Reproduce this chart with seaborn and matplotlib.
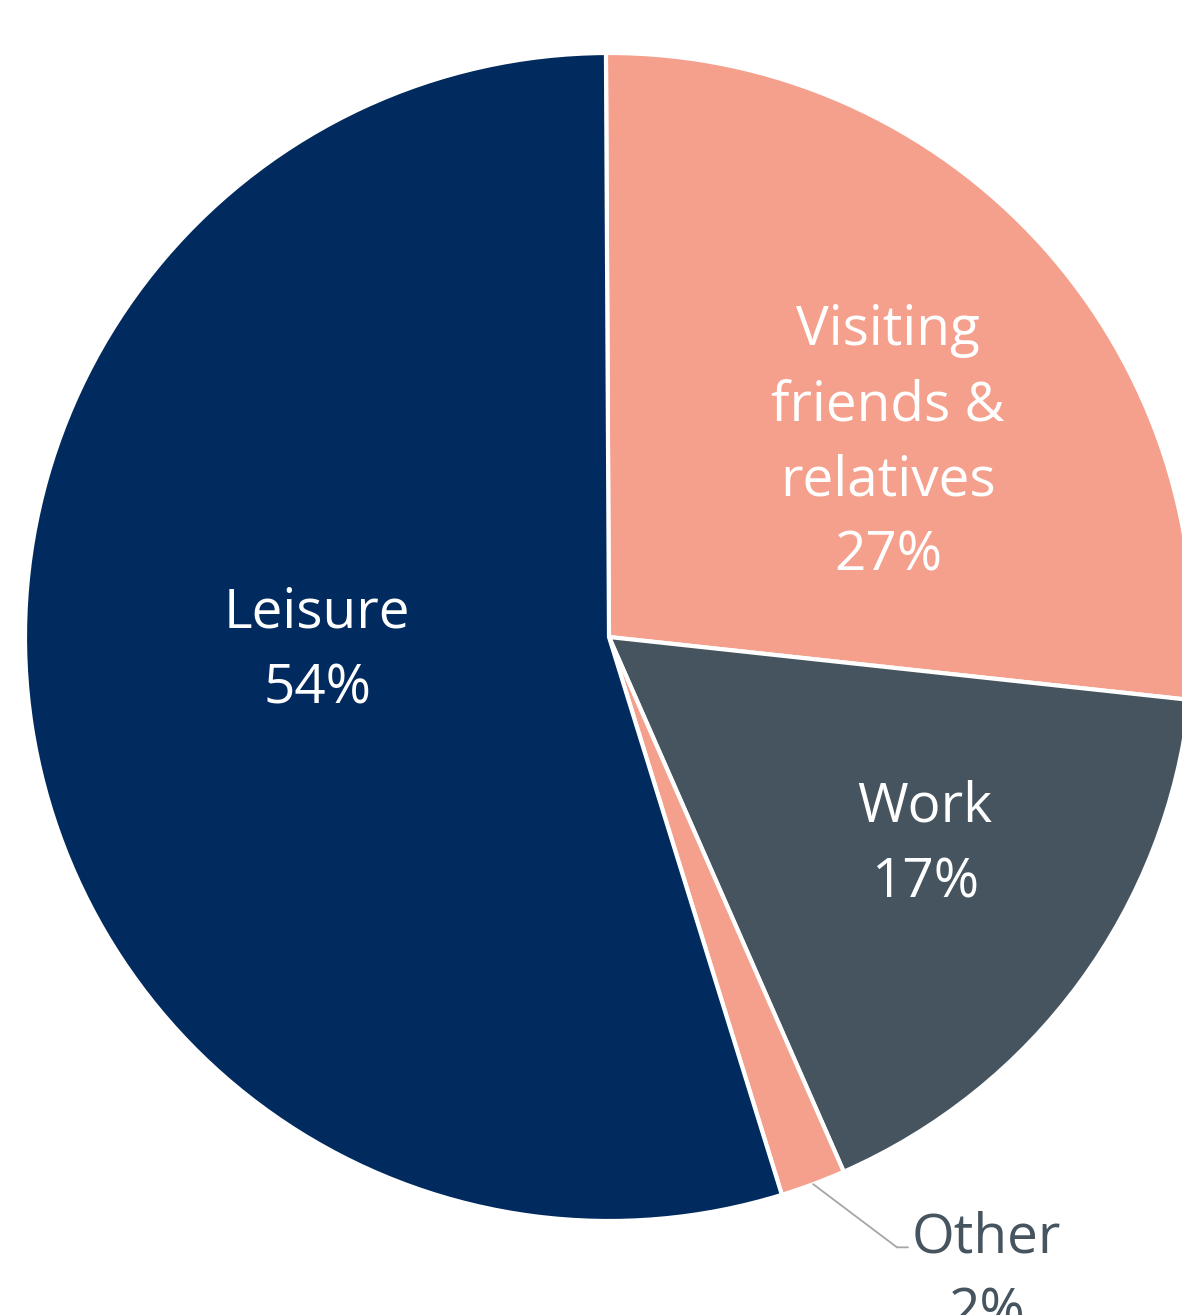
import numpy as np
import matplotlib
matplotlib.use('Agg')
import matplotlib.pyplot as plt
import seaborn as sns

# trip purpose shares, clockwise from 12 o'clock (wedge sizes)
purposes = ['Visiting\nfriends &\nrelatives', 'Work', 'Other', 'Leisure']
shares = [26.8, 16.7, 1.8, 54.7]
pct_labels = ['27%', '17%', '2%', '54%']
colors = ['#F5A08C', '#46545F', '#F5A08C', '#012A5E']

sns.set_theme(style='white')
plt.rcParams['font.family'] = ['Open Sans', 'DejaVu Sans']

W, H = 1182, 1315
fig = plt.figure(figsize=(W / 100, H / 100), dpi=100)
ax = fig.add_axes([0, 0, 1, 1])

cx, cy, R = 609, H - 637, 584
wedges, _ = ax.pie(shares, colors=colors, startangle=90.3, counterclock=False,
                   center=(cx, cy), radius=R,
                   wedgeprops=dict(edgecolor='white', linewidth=3))
ax.set_xlim(0, W)
ax.set_ylim(0, H)
ax.set_aspect('equal')
ax.axis('off')

# label placement: radial fraction and small angle nudge per wedge
dist = [0.582, 0.648, None, 0.50]
nudge = [-7.3, 2.9, 0, -6.0]

for w, name, pct, d, n in zip(wedges, purposes, pct_labels, dist, nudge):
    mid = np.deg2rad((w.theta1 + w.theta2) / 2 + n)
    if d is None:
        # outside label with leader line
        x0, y0 = cx + R * np.cos(mid), cy + R * np.sin(mid)
        ex = x0 + 105 * np.cos(np.deg2rad(-37))
        ey = y0 + 105 * np.sin(np.deg2rad(-37))
        ax.plot([x0, ex, ex + 11], [y0, ey, ey], color='#A6A6A6', lw=1.3,
                solid_joinstyle='miter')
        # baseline of the last line sits one line below the leader
        ax.text(ex + 15, ey - 80, f'{name}\n{pct}', ha='left', va='baseline',
                multialignment='center', color='#46545F', fontsize=39.5,
                linespacing=1.48)
        continue
    ax.text(cx + d * R * np.cos(mid), cy + d * R * np.sin(mid), f'{name}\n{pct}',
            ha='center', va='center', color='white', fontsize=39.5,
            linespacing=1.48)

fig.savefig('out.png', dpi=100)
